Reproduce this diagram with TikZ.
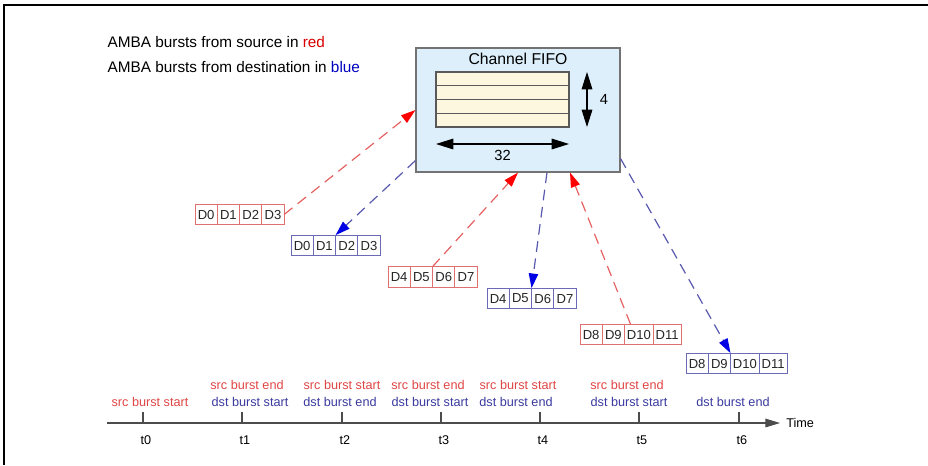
\documentclass[tikz,border=0pt]{standalone}
\usepackage{fontspec}
\setmainfont{Liberation Sans}
\usetikzlibrary{arrows.meta,positioning,calc}
\definecolor{srcred}{HTML}{E04545}
\definecolor{dstblue}{HTML}{3A3AA0}
\definecolor{cellred}{HTML}{E07070}
\definecolor{cellblue}{HTML}{6A6AB5}
\definecolor{fifofill}{HTML}{DCEFFB}
\definecolor{rowfill}{HTML}{FDF7DF}
\tikzset{
 cell/.style={draw,line width=.7pt,minimum width=16.7pt,minimum height=15.5pt,
  inner xsep=1.8pt,inner ysep=0pt,outer sep=0pt,text=black!85,
  font=\fontsize{9.8}{11}\selectfont},
 srccell/.style={cell,draw=cellred},
 dstcell/.style={cell,draw=cellblue},
 srcarrow/.style={draw=srcred!85,line width=.9pt,dash pattern=on 8pt off 5pt,
  -{Triangle[length=11pt,width=7pt,color=red]}},
 dstarrow/.style={draw=dstblue!85,line width=.9pt,dash pattern=on 8pt off 5pt,
  -{Triangle[length=11pt,width=7pt,color=blue!90!black]}},
 dimarrow/.style={line width=.8pt,{Triangle[length=13pt,width=8pt]}-{Triangle[length=13pt,width=8pt]}},
 evsrc/.style={text=srcred,font=\fontsize{9.5}{11}\selectfont},
 evdst/.style={text=dstblue,font=\fontsize{9.5}{11}\selectfont},
 tlabel/.style={font=\fontsize{9.5}{11}\selectfont},
 axis/.style={draw=black!70,line width=.8pt},
}
\begin{document}
\begin{tikzpicture}[x=.75pt,y=-.75pt]
 \useasboundingbox (0,0) rectangle (928,465);
 \draw[line width=1.5pt] (4,465) -- (4,5) -- (928,5);
 % legend
 \node[anchor=west,font=\fontsize{11.5}{13}\selectfont] (legsrc) at (103,42)
  {AMBA bursts from source in \textcolor{red!85!black}{red}};
 \node[anchor=west,font=\fontsize{11.5}{13}\selectfont] (legdst) at (103,67)
  {AMBA bursts from destination in \textcolor{blue!75!black}{blue}};
 % fifo
 \node[draw=black!55,fill=fifofill,line width=.8pt,minimum width=153pt,minimum height=93pt] (fifo) at (518,110) {};
 \node[font=\fontsize{11.8}{13}\selectfont,below=1pt of fifo.north] (title) {Channel FIFO};
 \foreach \r in {0,...,3}
  \draw[draw=black!65,fill=rowfill,line width=.8pt] (436,72+\r*13.75) rectangle ++(133,13.75);
 \draw[dimarrow] (587,72) -- (587,127) node[midway,right=6pt,font=\fontsize{11}{13}\selectfont] (depth) {4};
 \draw[dimarrow] (436,144) -- (569,144) node[midway,below=1pt,font=\fontsize{11}{13}\selectfont] (width) {32};
 % bursts
 \foreach \b/\st/\pos/\cells in {
   sa/srccell/{(195,214.5)}/{D0,D1,D2,D3},
   da/dstcell/{(291,245.5)}/{D0,D1,D2,D3},
   sb/srccell/{(388,277)}/{D4,D5,D6,D7},
   db/dstcell/{(487,298.5)}/{D4,D5,D6,D7},
   sc/srccell/{(580,334.5)}/{D8,D9,D10,D11},
   dc/dstcell/{(686,363.5)}/{D8,D9,D10,D11}}{
  \foreach \t [count=\i] in \cells {
   \pgfmathtruncatemacro\p{\i-1}
   \ifnum\i=1
    \node[\st,anchor=west] (\b\i) at \pos {\t};
   \else
    \node[\st,anchor=west] (\b\i) at (\b\p.east) {\t};
   \fi
  }
 }
 % transfers
 \draw[srcarrow] (sa4.east) -- (fifo.west);
 \draw[dstarrow] ($(fifo.south west)+(0,-12)$) -- (da3.north west);
 \draw[srcarrow] (sb3.north west) -- (fifo.south);
 \draw[dstarrow] ($(fifo.south)+(29,0)$) -- (db3.north west);
 \draw[srcarrow] ($(sc3.north west)+(6,0)$) -- ($(fifo.south)+(52,0)$);
 \draw[dstarrow] ($(fifo.south east)+(0,-14)$) -- (dc3.north west);
 % time line
 \coordinate (ax0) at (107,423);
 \coordinate (ax1) at (780,423);
 \draw[axis,-{Triangle[length=11pt,width=6.5pt]}] (ax0) -- (ax1)
  node[right=1pt,tlabel] (time) {Time};
 \foreach \x [count=\i from 0] in {143,242,342,441,540,639,739}{
  \draw[axis] (\x,423) -- (\x,412);
  \node[tlabel] (t\i) at (\x+3,440) {t\i};
 }
 \node[evsrc] (ev0) at (150,402) {src burst start};
 \node[evsrc] (ev1s) at (247,385) {src burst end};
 \node[evdst] (ev1d) at (250,402) {dst burst start};
 \node[evsrc] (ev2s) at (342,385) {src burst start};
 \node[evdst] (ev2d) at (340,402) {dst burst end};
 \node[evsrc] (ev3s) at (428,385) {src burst end};
 \node[evdst] (ev3d) at (430,402) {dst burst start};
 \node[evsrc] (ev4s) at (518,385) {src burst start};
 \node[evdst] (ev4d) at (516,402) {dst burst end};
 \node[evsrc] (ev5s) at (627,385) {src burst end};
 \node[evdst] (ev5d) at (629,402) {dst burst start};
 \node[evdst] (ev6) at (733,402) {dst burst end};
\end{tikzpicture}
\end{document}
